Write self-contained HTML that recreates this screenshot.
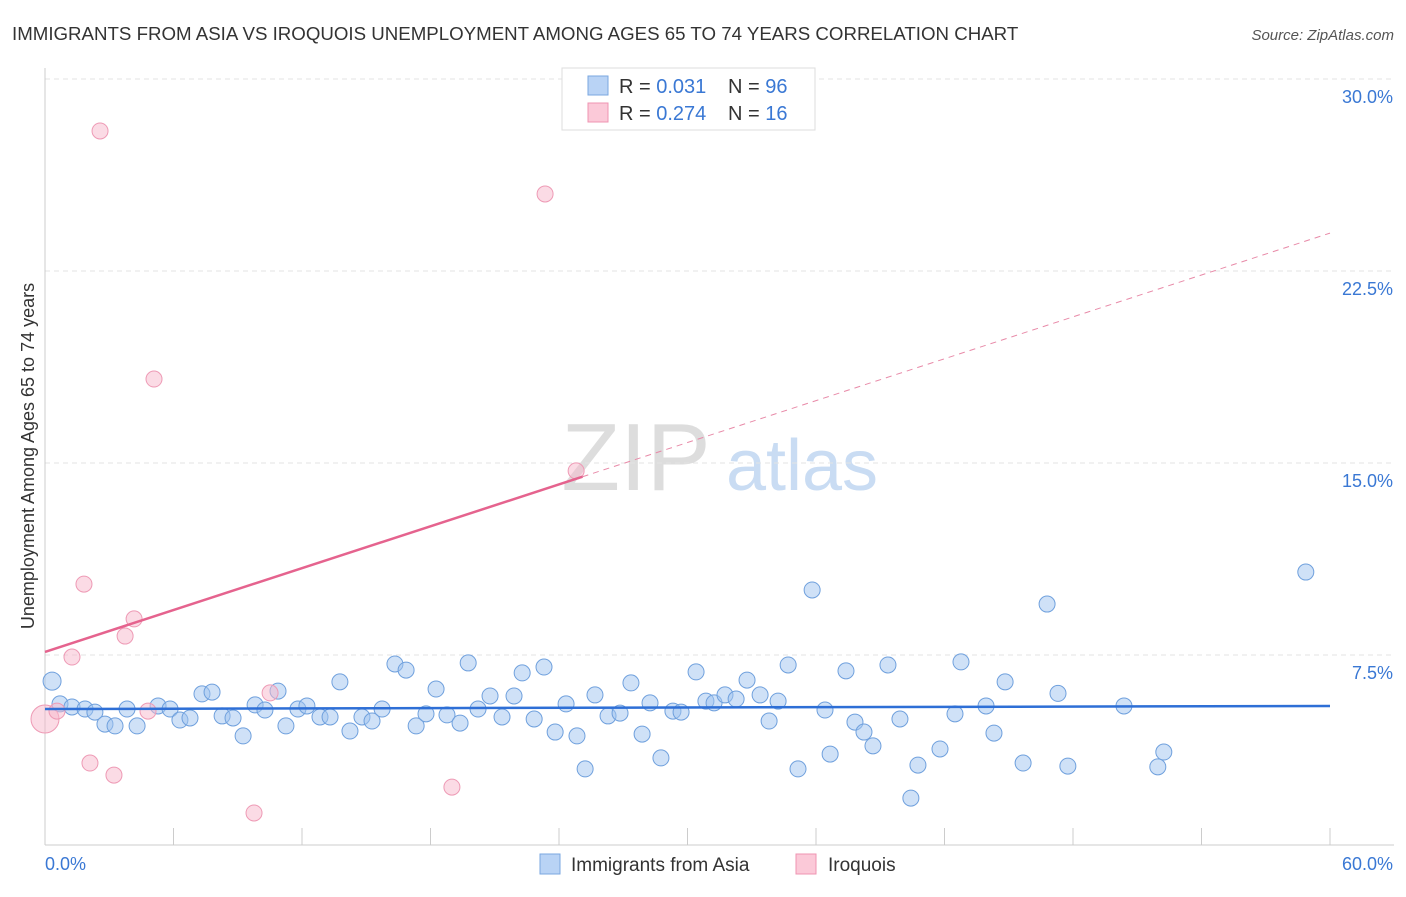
<!DOCTYPE html>
<html><head><meta charset="utf-8"><style>
body{margin:0;background:#fff;font-family:"Liberation Sans",sans-serif;}
svg text{font-family:"Liberation Sans",sans-serif;}
</style></head><body>
<svg id="c" width="1406" height="892">
<text x="12" y="40" font-size="18.7" fill="#333">IMMIGRANTS FROM ASIA VS IROQUOIS UNEMPLOYMENT AMONG AGES 65 TO 74 YEARS CORRELATION CHART</text>
<text x="1394" y="40" font-size="15" fill="#555" text-anchor="end" font-style="italic">Source: ZipAtlas.com</text>
<text x="34" y="456" font-size="18" fill="#333" text-anchor="middle" transform="rotate(-90 34 456)">Unemployment Among Ages 65 to 74 years</text>
<text x="636" y="490" font-size="96" fill="#ddd" font-family="Liberation Serif" text-anchor="middle">ZIP</text>
<text x="802" y="490" font-size="72" fill="#c9dcf3" text-anchor="middle">atlas</text>
<g id="grid"></g><g id="marks"></g>
<g>
<rect x="562" y="68" width="253" height="62" fill="#fff" stroke="#ddd"/>
<rect x="588" y="76" width="20" height="19" fill="#b9d3f5" stroke="#7aa7e0"/>
<rect x="588" y="103" width="20" height="19" fill="#fbc9d8" stroke="#ef94b2"/>
<text x="619" y="93" font-size="20" fill="#333">R = <tspan fill="#3a78d4">0.031</tspan></text>
<text x="728" y="93" font-size="20" fill="#333">N = <tspan fill="#3a78d4">96</tspan></text>
<text x="619" y="120" font-size="20" fill="#333">R = <tspan fill="#3a78d4">0.274</tspan></text>
<text x="728" y="120" font-size="20" fill="#333">N = <tspan fill="#3a78d4"> 16</tspan></text>
</g>
<g>
<rect x="540" y="854" width="20" height="20" fill="#b9d3f5" stroke="#7aa7e0"/>
<text x="571" y="871" font-size="19" fill="#333">Immigrants from Asia</text>
<rect x="796" y="854" width="20" height="20" fill="#fbc9d8" stroke="#ef94b2"/>
<text x="828" y="871" font-size="19" fill="#333">Iroquois</text>
</g>
</svg>
<script>
const yTicks=[7.5,15,22.5,30];
const yTickLabels=["7.5%","15.0%","22.5%","30.0%"];
const xTickLabels=["0.0%","60.0%"];
const asiaX=[0.33,0.7,1.26,1.87,2.33,2.8,3.27,3.83,4.3,5.28,5.84,6.3,6.77,7.33,7.8,8.27,8.78,9.25,9.81,10.27,10.88,11.25,11.81,12.23,12.84,13.31,13.77,14.24,14.8,15.27,15.74,16.34,16.86,17.33,17.79,18.26,18.77,19.38,19.76,20.22,20.78,21.34,21.9,22.28,22.84,23.3,23.82,24.33,24.84,25.22,25.68,26.29,26.85,27.36,27.88,28.25,28.76,29.32,29.7,30.4,30.86,31.24,31.75,32.27,32.78,33.39,33.81,34.23,34.7,35.16,35.82,36.42,36.66,37.4,37.82,38.24,38.66,39.36,39.92,40.43,40.76,41.79,42.49,42.77,43.94,44.31,44.83,45.67,46.79,47.3,47.76,50.38,51.96,52.24,58.87];
const asiaY=[6.48,5.59,5.47,5.39,5.27,4.8,4.73,5.39,4.73,5.51,5.39,4.96,5.04,5.98,6.05,5.12,5.04,4.34,5.55,5.35,6.09,4.73,5.39,5.51,5.08,5.08,6.45,4.53,5.08,4.92,5.39,7.15,6.91,4.73,5.2,6.17,5.16,4.84,7.19,5.39,5.9,5.08,5.9,6.8,5.0,7.03,4.49,5.59,4.34,3.05,5.94,5.12,5.23,6.41,4.41,5.63,3.48,5.31,5.27,6.84,5.7,5.63,5.94,5.78,6.52,5.94,4.92,5.7,7.11,3.05,10.04,5.35,3.63,6.88,4.88,4.49,3.95,7.11,5.0,1.91,3.2,3.83,5.2,7.23,5.51,4.45,6.45,3.28,9.49,6.0,3.16,5.51,3.13,3.71,10.74];
const iroX=[0.0,0.56,1.26,1.82,2.1,2.57,3.22,3.74,4.16,4.81,5.09,9.76,10.51,19.0,23.35,24.8];
const iroY=[5.0,5.31,7.42,10.27,3.28,27.97,2.81,8.24,8.91,5.31,18.28,1.33,6.02,2.34,25.51,14.69];
const iroTrend=[7.62,23.98];
const X=v=>45+v/60*1285, Y=v=>847-v/30*768;
const NS="http://www.w3.org/2000/svg";
function mk(p,t,a){const e=document.createElementNS(NS,t);for(const k in a)e.setAttribute(k,a[k]);p.appendChild(e);return e;}
const g=document.getElementById('grid'), m=document.getElementById('marks');
yTicks.forEach((v,i)=>{
 const l=mk(g,'line',{x1:45,x2:1394,y1:Y(v),y2:Y(v),stroke:'#e3e3e3','stroke-dasharray':'5,4'});
 
 
 const t=mk(g,'text',{x:1393,y:Y(v)+24,'font-size':18,fill:'#3a78d4','text-anchor':'end'});t.textContent=yTickLabels[i];
 
 
});
const ax=mk(g,'line',{x1:45,x2:1394,y1:845,y2:845,stroke:'#ccc'});


const ay=mk(g,'line',{x1:45,x2:45,y1:68,y2:845,stroke:'#ccc'});


for(let i=0;i<=10;i++){const l=mk(g,'line',{x1:X(i*6),x2:X(i*6),y1:828,y2:845,stroke:'#ccc'});
 
 }
[[0,45,'start'],[60,1393,'end']].forEach((d,i)=>{const t=mk(g,'text',{x:d[1],y:870,'font-size':18,fill:'#3a78d4','text-anchor':d[2]});t.textContent=xTickLabels[i];
 
 });
asiaX.forEach((v,i)=>{const c=mk(m,'circle',{cx:X(v),cy:Y(asiaY[i]),r:i==0?9:8,fill:'rgba(160,196,240,0.5)',stroke:'#6fa0dd','stroke-width':1});
 
 });
iroX.forEach((v,i)=>{const c=mk(m,'circle',{cx:X(v),cy:Y(iroY[i]),r:i==0?14:8,fill:'rgba(248,184,204,0.5)',stroke:'#ee9ab5','stroke-width':1});
 
 });
const bl=mk(m,'line',{x1:X(0),y1:Y(5.39),x2:X(60),y2:Y(5.51),stroke:'#2e6fd6','stroke-width':2.5});


const pf=v=>iroTrend[0]+v*(iroTrend[1]-iroTrend[0])/60;
const ps=mk(m,'line',{x1:X(0),y1:Y(pf(0)),x2:X(25.1),y2:Y(pf(25.1)),stroke:'#e5638e','stroke-width':2.5});


const pd=mk(m,'line',{x1:X(25.1),y1:Y(pf(25.1)),x2:X(60),y2:Y(pf(60)),stroke:'#e88aa8','stroke-width':1,'stroke-dasharray':'6,5'});


</script>
</body></html>
